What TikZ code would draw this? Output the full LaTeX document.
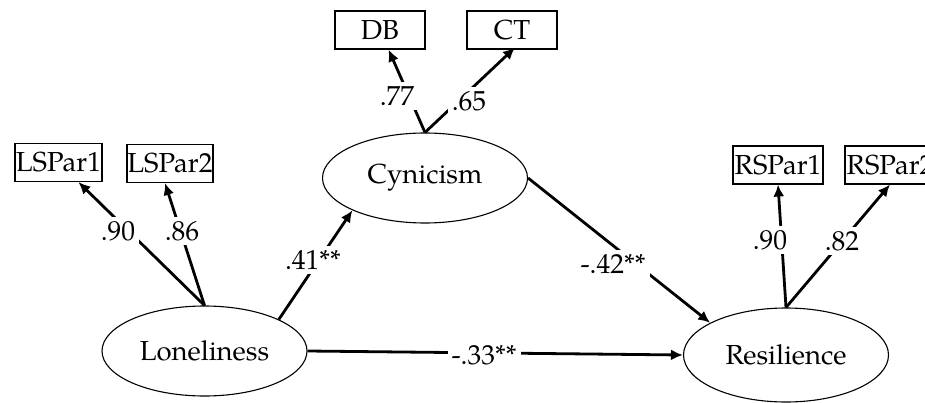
\documentclass[tikz,border=0pt]{standalone}
\usepackage{fontspec}
\setmainfont{TeX Gyre Pagella}
\usetikzlibrary{arrows.meta,shapes.geometric}
\begin{document}
\begin{tikzpicture}[x=1pt,y=-1pt,
  every node/.style={font=\fontsize{27.5}{30}\selectfont},
  obs/.style={draw,line width=1.1pt,inner sep=0pt,minimum width=88pt,minimum height=38pt},
  lat/.style={draw,ellipse,line width=1.1pt,inner sep=0pt,minimum width=205pt,minimum height=90pt},
  conn/.style={line width=2.8pt,-{Latex[length=12pt,width=11pt]}},
  lab/.style={fill=white,inner sep=4pt}]
\clip (0,0) rectangle (925,403);
\fill[white] (0,0) rectangle (925,403);
% latent variables
\node[lat] (C) at (425,178) {Cynicism};
\node[lat] (L) at (204.5,351) {Loneliness};
\node[lat,minimum height=94pt] (R) at (786,355) {Resilience};
% indicators
\node[obs,minimum width=87pt] (LS1) at (58.5,162.5) {LSPar1};
\node[obs,minimum width=86pt] (LS2) at (170,163.5) {LSPar2};
\node[obs,minimum width=90pt] (DB) at (380,30) {DB};
\node[obs,minimum width=90pt] (CT) at (512,30) {CT};
\node[obs,minimum width=90pt] (RS1) at (778,165) {RSPar1};
\node[obs,minimum width=90pt] (RS2) at (890,165) {RSPar2};
% loadings
\draw[conn] (L.north) -- (LS1);
\draw[conn] (L.north) -- ([xshift=-5pt]LS2.south);
\draw[conn] (C.north) -- (DB);
\draw[conn] (C.north) -- ([xshift=3pt,yshift=2pt]CT.south);
\draw[conn] (R.north) -- (RS1.south);
\draw[conn] (R.north) -- (RS2.south);
% structural paths
\draw[conn] (L.23) -- (C.204);
\draw[conn] (C.east) -- (R.157);
\draw[conn] (L.east) -- (R.west);
% labels
\node[lab] (l90) at (118,231) {.90};
\node[lab] (l86) at (182,231) {.86};
\node[lab] (l77) at (397,96) {.77};
\node[lab] (l65) at (469,101) {.65};
\node[lab] (l41) at (313,260) {.41**};
\node[lab] (l42) at (613,264) {-.42**};
\node[lab] (l33) at (484,355) {-.33**};
\node[lab] (r90) at (770,240) {.90};
\node[lab] (r82) at (842,241) {.82};
\end{tikzpicture}
\end{document}
